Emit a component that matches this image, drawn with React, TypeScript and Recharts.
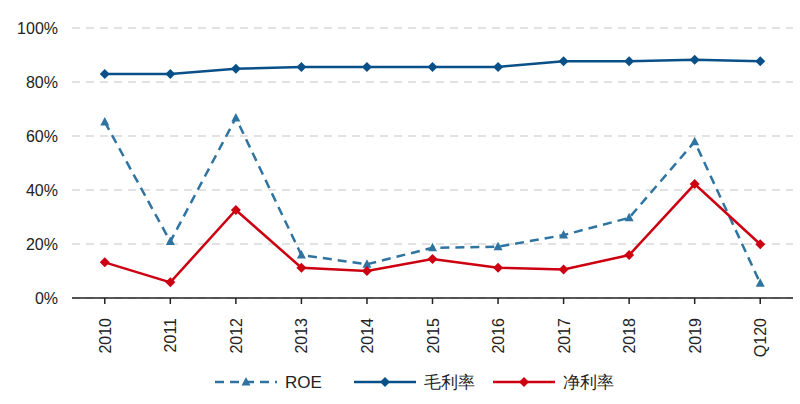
import React from 'react';
import { LineChart, Line, XAxis, YAxis, CartesianGrid, Legend } from 'recharts';

const categories = ['2010', '2011', '2012', '2013', '2014', '2015', '2016', '2017', '2018', '2019', 'Q120'];
const roe = [65.2, 20.9, 66.7, 15.9, 12.5, 18.6, 19.0, 23.3, 29.7, 57.9, 5.5];
const grossMargin = [83.0, 83.0, 84.9, 85.6, 85.6, 85.6, 85.6, 87.7, 87.7, 88.2, 87.7];
const netMargin = [13.2, 5.8, 32.6, 11.2, 10.0, 14.4, 11.2, 10.6, 15.9, 42.2, 19.9];
const yTicks = [0, 20, 40, 60, 80, 100];

const data = categories.map((name, i) => ({
  name,
  roe: roe[i],
  gross: grossMargin[i],
  net: netMargin[i],
}));

const ROE_COLOR = '#2F74A0';
const GROSS_COLOR = '#0A5088';
const NET_COLOR = '#CC0010';
const FONT = '"Liberation Sans", Arial, sans-serif';

const Triangle = (props: any) => {
  const { cx, cy, fill } = props;
  if (cx == null || cy == null) return null;
  return <path d={`M${cx},${cy - 5} L${cx + 4.5},${cy + 3.5} L${cx - 4.5},${cy + 3.5} Z`} fill={fill} />;
};

const Diamond = (props: any) => {
  const { cx, cy, fill } = props;
  if (cx == null || cy == null) return null;
  return <path d={`M${cx},${cy - 5} L${cx + 5},${cy} L${cx},${cy + 5} L${cx - 5},${cy} Z`} fill={fill} />;
};

const VerticalTick = (props: any) => {
  const { x, y, payload } = props;
  return (
    <text
      x={0}
      y={0}
      transform={`translate(${x + 6},${y + 12}) rotate(-90)`}
      textAnchor="end"
      fontSize={16}
      fill="#222"
      fontFamily={FONT}
    >
      {payload.value}
    </text>
  );
};

const legendItems = [
  { label: 'ROE', color: ROE_COLOR, dashed: true, marker: 'tri' },
  { label: '毛利率', color: GROSS_COLOR, dashed: false, marker: 'dia' },
  { label: '净利率', color: NET_COLOR, dashed: false, marker: 'dia' },
];

const CustomLegend = () => (
  <svg width={800} height={30} style={{ display: 'block' }}>
    {legendItems.map((item, i) => {
      const x0 = 215 + i * 139;
      const cx = x0 + 31;
      return (
        <g key={item.label}>
          <line
            x1={x0}
            y1={15}
            x2={x0 + 62}
            y2={15}
            stroke={item.color}
            strokeWidth={2.5}
            strokeDasharray={item.dashed ? '9 6' : undefined}
          />
          {item.marker === 'tri' ? (
            <Triangle cx={cx} cy={15} fill={item.color} />
          ) : (
            <Diamond cx={cx} cy={15} fill={item.color} />
          )}
          <text x={x0 + 70} y={21} fontSize={17} fill="#222" fontFamily={FONT}>
            {item.label}
          </text>
        </g>
      );
    })}
  </svg>
);

export default function App() {
  return (
    <div style={{ position: 'absolute', left: 0, top: 0, background: '#fff' }}>
      <LineChart width={800} height={404} data={data} margin={{ top: 28, right: 7, left: 0, bottom: 26 }}>
        <CartesianGrid vertical={false} stroke="#d9d9d9" strokeDasharray="8 6" strokeWidth={1.5} />
        <XAxis
          dataKey="name"
          axisLine={{ stroke: '#222', strokeWidth: 1.5 }}
          tickLine={{ stroke: '#222', strokeWidth: 1.5 }}
          tickSize={6}
          interval={0}
          tick={<VerticalTick />}
          height={50}
          scale="band"
        />
        <YAxis
          domain={[0, 100]}
          ticks={yTicks}
          tickFormatter={(v) => `${v}%`}
          axisLine={false}
          tickLine={false}
          width={72}
          tick={{ fontSize: 16, fill: '#222', fontFamily: FONT, dx: -6 }}
        />
        <Legend
          verticalAlign="bottom"
          content={<CustomLegend />}
          wrapperStyle={{ left: 0, top: 367, width: 800, height: 30 }}
        />
        <Line
          dataKey="roe"
          stroke={ROE_COLOR}
          strokeWidth={2.5}
          strokeDasharray="9 6"
          dot={<Triangle fill={ROE_COLOR} />}
          activeDot={false}
          isAnimationActive={false}
        />
        <Line
          dataKey="gross"
          stroke={GROSS_COLOR}
          strokeWidth={2.5}
          dot={<Diamond fill={GROSS_COLOR} />}
          activeDot={false}
          isAnimationActive={false}
        />
        <Line
          dataKey="net"
          stroke={NET_COLOR}
          strokeWidth={2.5}
          dot={<Diamond fill={NET_COLOR} />}
          activeDot={false}
          isAnimationActive={false}
        />
      </LineChart>
    </div>
  );
}
